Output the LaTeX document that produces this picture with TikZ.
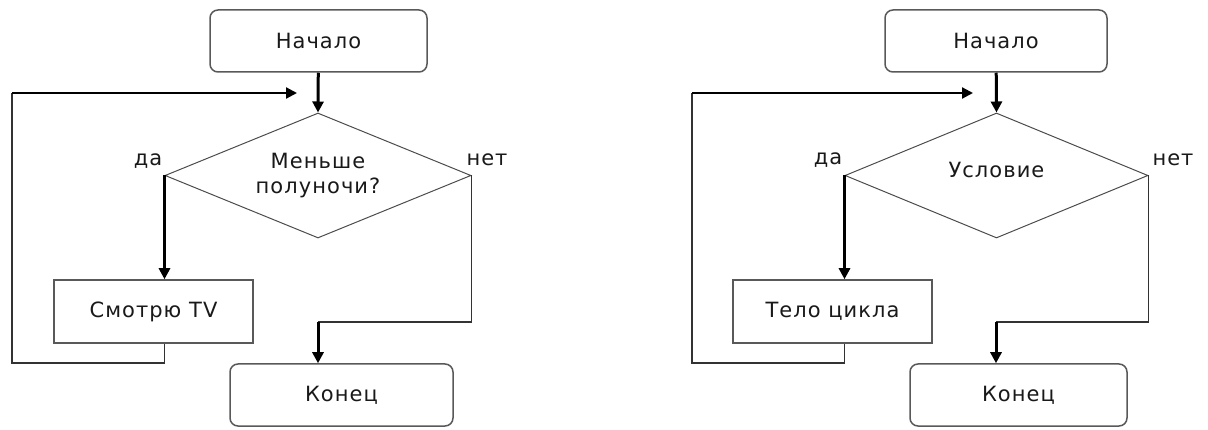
\documentclass[tikz,border=0pt]{standalone}
\usepackage{fontspec}
\newfontfamily\flowfont[LetterSpace=5]{DejaVu Sans}
\usetikzlibrary{shapes.geometric}
\usetikzlibrary{arrows.meta}

\begin{document}
\begin{tikzpicture}[x=1pt,y=-1pt,
  every node/.style={font=\flowfont\fontsize{21}{25}\selectfont,text=black!90,inner sep=0pt,align=center},
  termbox/.style={draw=black!65,line width=1.5pt,rounded corners=8pt,minimum width=#1,minimum height=62pt},
  workbox/.style={draw=black!65,line width=1.5pt,minimum width=199pt,minimum height=63pt},
  cond/.style={diamond,draw=black!70,line width=1pt,shape aspect=2.4,minimum width=#1,minimum height=125pt},
  flow/.style={draw=black,line width=3pt,-{Triangle[length=11pt,width=11pt]}},
  back/.style={draw=black,line width=2.2pt,-{Triangle[length=11pt,width=11pt]}},
  plain/.style={draw=black!80,line width=1.5pt},
]
\useasboundingbox (0,0) rectangle (1208,430);
% left: Меньше полуночи?
\node[termbox=217pt](start1) at(318.5,41){Начало};
\node[cond=306pt](cond1) at(318,175.5){Меньше\\полуночи?};
\node[workbox](body1) at(153.5,311.5){Смотрю TV};
\node[termbox=223pt](end1) at(341.5,395){Конец};
\node(yes1) at(148,161){да}; \node(no1) at(487,160){нет};
\coordinate(low1) at(12,363); \coordinate(high1) at(12,93);
\coordinate(back1) at(297,93); \coordinate(join1) at(318,322);
\draw[flow](start1)--(cond1.north);
\draw[flow](cond1.west)--(cond1.west |- body1.north);
\draw[plain](cond1.west |- body1.south)|-(low1)--(high1);
\draw[back](high1)--(back1);
\draw[plain](cond1.east)|-(join1);
\draw[flow](join1)--(join1 |- end1.north);
% right: Условие
\node[termbox=222pt](start2) at(996,41){Начало};
\node[cond=303pt](cond2) at(996.5,175.5){\raisebox{12pt}{Условие}};
\node[workbox](body2) at(832.5,311.5){Тело цикла};
\node[termbox=217pt](end2) at(1018.5,395){Конец};
\node(yes2) at(828,160){да}; \node(no2) at(1173,160){нет};
\coordinate(low2) at(692,363); \coordinate(high2) at(692,93);
\coordinate(back2) at(973,93); \coordinate(join2) at(996,322);
\draw[flow](start2)--(cond2.north);
\draw[flow](cond2.west)--(cond2.west |- body2.north);
\draw[plain](cond2.west |- body2.south)|-(low2)--(high2);
\draw[back](high2)--(back2);
\draw[plain](cond2.east)|-(join2);
\draw[flow](join2)--(join2 |- end2.north);
\end{tikzpicture}
\end{document}
